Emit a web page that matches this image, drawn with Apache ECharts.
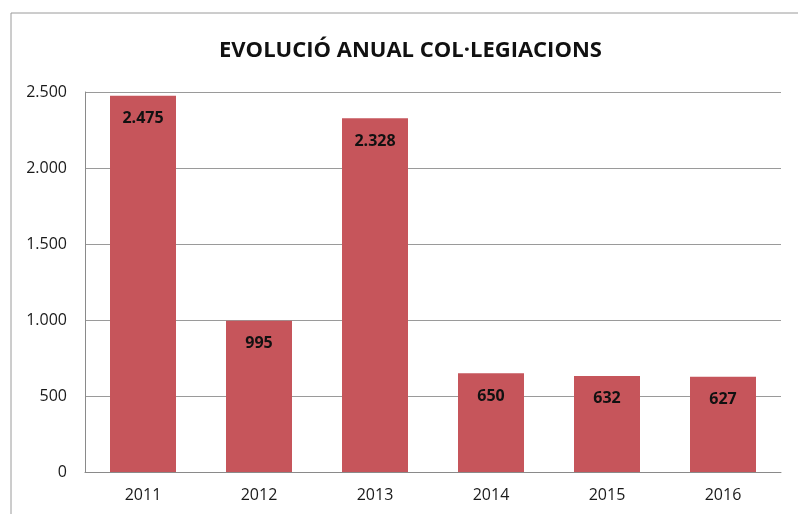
<!DOCTYPE html>
<html>
<head>
<meta charset="utf-8">
<script src="https://cdn.jsdelivr.net/npm/echarts@6/dist/echarts.min.js"></script>
<style>
  html, body { margin: 0; padding: 0; background: #fff; }
  #chart { width: 798px; height: 514px; }
</style>
</head>
<body>
<div id="chart"></div>
<script>
  // anys i col·legiacions
  const years = ['2011', '2012', '2013', '2014', '2015', '2016'];
  const values = [2475, 995, 2328, 650, 632, 627];
  const yTicks = [0, 500, 1000, 1500, 2000, 2500];

  // separador de milers amb punt
  function fmt(v) {
    return String(v).replace(/\B(?=(\d{3})+(?!\d))/g, '.');
  }

  const myChart = echarts.init(document.getElementById('chart'));
  myChart.setOption({
    animation: false,
    backgroundColor: '#fff',
    title: {
      text: 'EVOLUCIÓ ANUAL COL·LEGIACIONS',
      left: 214,
      top: 35,
      textStyle: { fontFamily: 'Open Sans', fontWeight: 'bold', fontSize: 22, color: '#111' }
    },
    graphic: [{
      type: 'rect',
      shape: { x: 11, y: 13, width: 800, height: 520 },
      style: { fill: 'none', stroke: '#9a9a9a', lineWidth: 1 },
      silent: true
    }],
    grid: { left: 85, right: 17, top: 92, bottom: 42 },
    xAxis: {
      type: 'category',
      data: years,
      axisLine: { lineStyle: { color: '#8a8a8a' } },
      axisTick: { show: false },
      axisLabel: { fontFamily: 'Open Sans', fontSize: 16, color: '#1a1a1a', margin: 15 }
    },
    yAxis: {
      type: 'value',
      min: yTicks[0],
      max: yTicks[yTicks.length - 1],
      interval: 500,
      axisLine: { show: true, lineStyle: { color: '#8a8a8a' } },
      axisTick: { show: false },
      splitLine: { lineStyle: { color: '#9a9a9a' } },
      axisLabel: { fontFamily: 'Open Sans', fontSize: 16, color: '#1a1a1a', margin: 18, formatter: fmt }
    },
    series: [{
      type: 'bar',
      data: values,
      barWidth: 66,
      itemStyle: { color: '#c6555b' },
      label: {
        show: true,
        position: 'insideTop',
        distance: 15,
        fontFamily: 'Open Sans',
        fontWeight: 'bold',
        fontSize: 16,
        color: '#111',
        formatter: p => fmt(p.value)
      }
    }]
  });
</script>
</body>
</html>
